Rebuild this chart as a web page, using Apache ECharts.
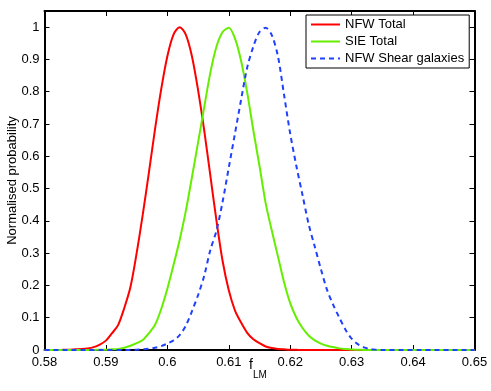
<!DOCTYPE html>
<html>
<head>
<meta charset="utf-8">
<script src="https://cdn.jsdelivr.net/npm/echarts@6/dist/echarts.min.js"></script>
<style>html,body{margin:0;padding:0;background:#fff}#c{width:491px;height:391px}</style>
</head>
<body>
<div id="c"></div>
<script>
var xValues = [0.580,0.581,0.582,0.583,0.584,0.585,0.586,0.587,0.588,0.589,
0.590,0.591,0.592,0.593,0.594,0.595,0.596,0.597,0.598,0.599,
0.600,0.601,0.602,0.603,0.604,0.605,0.606,0.607,0.608,0.609,
0.610,0.611,0.612,0.613,0.614,0.615,0.616,0.617,0.618,0.619,
0.620,0.621,0.622,0.623,0.624,0.625,0.626,0.627,0.628,0.629,
0.630,0.631,0.632,0.633,0.634,0.635,0.636,0.637,0.638,0.639,
0.640,0.641,0.642,0.643,0.644,0.645,0.646,0.647,0.648,0.649,0.650];

var nfwTotal = [0,0,0,0.0005,0.001,0.002,0.003,0.005,0.009,0.017,
0.029,0.052,0.078,0.131,0.196,0.30,0.42,0.55,0.685,0.808,
0.91,0.977,1.0,0.977,0.91,0.805,0.68,0.54,0.40,0.275,
0.185,0.123,0.085,0.053,0.033,0.021,0.011,0.006,0.003,0.002,
0.001,0.0005,0,0,0,0,0,0,0,0,
0,0,0,0,0,0,0,0,0,0,
0,0,0,0,0,0,0,0,0,0,0];

var sieTotal = [0,0,0,0,0,0,0,0,0.0003,0.0005,
0.001,0.002,0.003,0.007,0.013,0.021,0.031,0.052,0.078,0.127,
0.19,0.263,0.341,0.43,0.535,0.643,0.752,0.859,0.94,0.985,
0.998,0.965,0.896,0.797,0.68,0.57,0.455,0.37,0.29,0.21,
0.145,0.10,0.068,0.045,0.030,0.020,0.013,0.009,0.005,0.003,
0.0015,0.0008,0.0003,0,0,0,0,0,0,0,
0,0,0,0,0,0,0,0,0,0,0];

var nfwShear = [0,0,0,0,0,0,0,0,0,0,
0,0,0,0,0.0005,0.001,0.002,0.004,0.007,0.012,
0.020,0.030,0.046,0.075,0.12,0.17,0.23,0.31,0.37,0.46,
0.565,0.67,0.775,0.875,0.94,0.985,0.998,0.975,0.91,0.79,
0.67,0.57,0.48,0.39,0.32,0.25,0.186,0.14,0.10,0.063,
0.035,0.018,0.008,0.003,0.001,0,0,0,0,0,
0,0,0,0,0,0,0,0,0,0,0];

var seriesNames = ['NFW Total', 'SIE Total', 'NFW Shear galaxies'];
var xTickLabels = ['0.58','0.59','0.6','0.61','0.62','0.63','0.64','0.65'];
var yTickLabels = ['0','0.1','0.2','0.3','0.4','0.5','0.6','0.7','0.8','0.9','1'];

function pairs(ys){ return xValues.map(function(x,i){ return [x, ys[i]]; }); }

var FONT = 'Liberation Sans';
var chart = echarts.init(document.getElementById('c'), null, {renderer:'canvas'});
var tickStyle = {show:true, inside:true, length:5, lineStyle:{color:'#000', width:1}};
var lineAx = {show:true, onZero:false, lineStyle:{color:'#000', width:2}};
chart.setOption({
  animation:false,
  backgroundColor:'#fff',
  textStyle:{fontFamily:FONT},
  grid:{left:44.5, right:16.5, top:11, bottom:41, containLabel:false, outerBoundsMode:'none'},
  legend:{
    orient:'vertical', left:306, top:15,
    itemWidth:29, itemHeight:12, itemGap:4,
    padding:[3,5,3,4],
    borderColor:'#000', borderWidth:1, borderRadius:0, backgroundColor:'#fff',
    itemStyle:{opacity:0},
    textStyle:{fontSize:13, color:'#000', fontFamily:FONT},
    data:seriesNames
  },
  xAxis:[{
    type:'value', min:0.58, max:0.65, interval:0.01,
    axisLine:lineAx, axisTick:tickStyle, splitLine:{show:false},
    axisLabel:{fontSize:13, color:'#000', margin:6, fontFamily:FONT,
      formatter:function(v){ var i = Math.round((v-0.58)/0.01); return xTickLabels[i] || ''; }},
    name:'{f|f}{s|LM}', nameLocation:'middle', nameGap:8, nameMoveOverlap:false,
    nameTextStyle:{align:'center', rich:{
      f:{fontSize:14, color:'#000', fontFamily:FONT, padding:[0,0,8,0]},
      s:{fontSize:10, color:'#000', fontFamily:FONT, padding:[12,3,0,0]}
    }}
  },{
    type:'value', min:0.58, max:0.65, interval:0.01, position:'top',
    axisLine:lineAx, axisTick:tickStyle, axisLabel:{show:false}, splitLine:{show:false}
  }],
  yAxis:[{
    type:'value', min:0, max:1.05, interval:0.1,
    axisLine:lineAx, axisTick:tickStyle, splitLine:{show:false},
    axisLabel:{fontSize:13, color:'#000', margin:5, fontFamily:FONT,
      formatter:function(v){ var i = Math.round(v/0.1); if (Math.abs(v - i*0.1) > 1e-6) return ''; return yTickLabels[i] || ''; }},
    name:'Normalised probability', nameLocation:'middle', nameGap:26, nameMoveOverlap:false,
    nameTextStyle:{fontSize:13, color:'#000', fontFamily:FONT}
  },{
    type:'value', min:0, max:1.05, interval:0.1, position:'right',
    axisLine:lineAx, axisTick:tickStyle, axisLabel:{show:false}, splitLine:{show:false}
  }],
  series:[
    {name:seriesNames[0], type:'line', symbol:'none', smooth:0.3, data:pairs(nfwTotal),
     lineStyle:{color:'#ff0000', width:2}, itemStyle:{color:'#ff0000'}},
    {name:seriesNames[1], type:'line', symbol:'none', smooth:0.3, data:pairs(sieTotal),
     lineStyle:{color:'#66ee00', width:2}, itemStyle:{color:'#66ee00'}},
    {name:seriesNames[2], type:'line', symbol:'none', smooth:0.3, data:pairs(nfwShear),
     lineStyle:{color:'#2040ff', width:2, type:[5,4]}, itemStyle:{color:'#2040ff'}}
  ]
});
</script>
</body>
</html>
